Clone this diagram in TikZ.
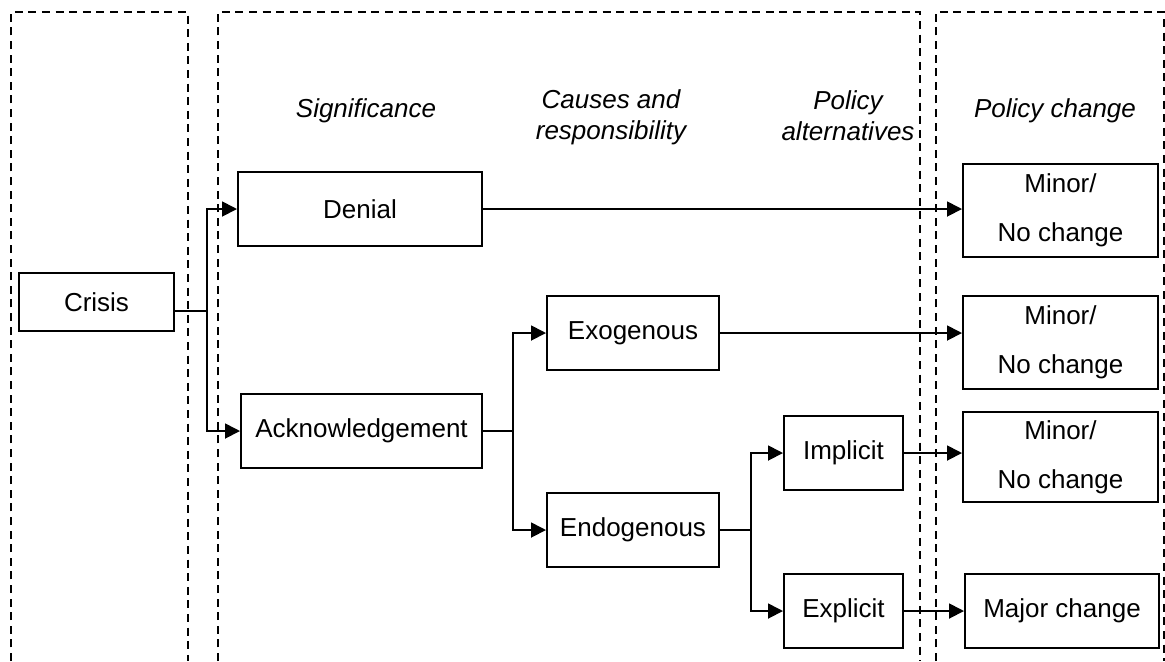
\documentclass[tikz,border=0pt]{standalone}
\usepackage{fontspec}
\setsansfont{Liberation Sans}
\usetikzlibrary{arrows.meta, positioning}
\tikzset{
    font=\sffamily\fontsize{13}{15.5}\selectfont,
    >={Triangle[length=7.5pt,width=7.5pt]},
    % Frames
    stage/.style={line width=1pt, dash pattern=on 4pt off 2.8pt},
    % Shapes
    box/.style={rectangle, draw, line width=1pt, align=center, inner sep=2pt, minimum height=37pt},
    heading/.style={align=center, font=\sffamily\itshape\fontsize{13}{15.5}\selectfont},
    % Flow
    flow/.style={->, line width=0.9pt}
}

\begin{document}
\begin{tikzpicture}[x=0.5pt, y=-0.5pt]
\useasboundingbox (0,0) rectangle (1165,661);

% stage frames (open at the bottom)
\draw[stage] (11,661) |- (188,12) -- (188,661);
\draw[stage] (218,661) |- (920,12) -- (920,661);
\draw[stage] (936,661) |- (1164,12) -- (1164,661);

% headings
\node[heading] (hsig) at (366,111) {Significance};
\node[heading] (hcause) at (611,117) {Causes and\\responsibility};
\node[heading] (halt) at (848,116) {Policy\\alternatives};
\node[heading] (hchange) at (1055,111) {Policy change};

% stages
\node[box, minimum width=77.5pt, minimum height=29pt] (crisis) at (96.5,302) {Crisis};
\node[box, minimum width=122pt] (denial) at (360,209) {Denial};
\node[box, minimum width=120.5pt] (ack) at (361.5,431) {Acknowledgement};
\node[box, minimum width=86pt] (exo) at (633,333) {Exogenous};
\node[box, minimum width=86pt] (endo) at (633,530) {Endogenous};
\node[box, minimum width=59.5pt] (impl) at (843.5,453) {Implicit};
\node[box, minimum width=59.5pt] (expl) at (843.5,611) {Explicit};

% outcomes
\node[box, minimum width=97.5pt, minimum height=46.5pt] (minorA) at (1060.5,210.5) {Minor/\\[9pt]No change};
\node[box, minimum width=97.5pt, minimum height=46.5pt] (minorB) at (1060.5,342.5) {Minor/\\[9pt]No change};
\node[box, minimum width=97.5pt, minimum height=45pt] (minorC) at (1060.5,457) {Minor/\\[9pt]No change};
\node[box, minimum width=97pt] (major) at (1062,611) {Major change};

% branching
\coordinate (splitA) at (207,311);
\coordinate (splitB) at (513,431);
\coordinate (splitC) at (751,530);

\draw[flow] (crisis.east |- splitA) -- (splitA) |- (denial);
\draw[flow] (splitA) |- (ack);
\draw[flow] (ack) -- (splitB) |- (exo);
\draw[flow] (splitB) |- (endo);
\draw[flow] (endo) -- (splitC) |- (impl);
\draw[flow] (splitC) |- (expl);

% to policy change
\draw[flow] (denial) -- (denial -| minorA.west);
\draw[flow] (exo) -- (exo -| minorB.west);
\draw[flow] (impl) -- (impl -| minorC.west);
\draw[flow] (expl) -- (major);

\end{tikzpicture}
\end{document}
